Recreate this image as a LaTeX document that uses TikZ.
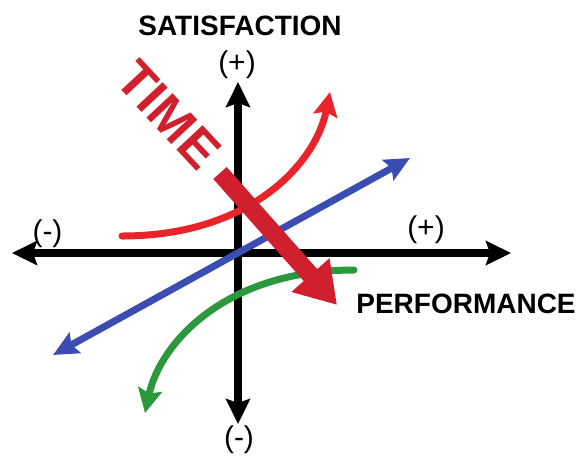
\documentclass[tikz,border=0pt]{standalone}
\usepackage{fontspec}
\setmainfont{Liberation Sans}
\usetikzlibrary{arrows.meta}
\definecolor{curvered}{RGB}{232,35,42}
\definecolor{timered}{RGB}{208,32,45}
\definecolor{lineblue}{RGB}{59,77,176}
\definecolor{curvegreen}{RGB}{44,152,62}
\begin{document}
\begin{tikzpicture}[x=1pt,y=-1pt,
  axisline/.style={line width=7.5pt, -{Stealth[length=25pt,width=24pt,inset=4pt]}},
  trend/.style={line width=7pt, line cap=round},
  trendtip/.style={-{Stealth[length=24pt,width=24pt,inset=4pt]}},
  biglabel/.style={font=\fontsize{28}{28}\selectfont\bfseries, inner sep=0pt, anchor=base},
  signlabel/.style={font=\fontsize{30}{30}\selectfont, inner sep=0pt, anchor=base},
]
\useasboundingbox (0,0) rectangle (580,456);
% axes
\coordinate (O) at (238,253);
\coordinate (xl) at (12,253);
\coordinate (xr) at (511,253);
\coordinate (yt) at (238,82);
\coordinate (yb) at (238,424);
\draw[axisline] (O) -- (xr);
\draw[axisline] (O) -- (xl);
\draw[axisline] (O) -- (yt);
\draw[axisline] (O) -- (yb);
% labels
\node[biglabel] (sat) at (240,35) {SATISFACTION};
\node[biglabel] (perf) at (466,313) {PERFORMANCE};
\node[signlabel] (ptop) at (237,72) {(+)};
\node[signlabel] (pright) at (426,237) {(+)};
\node[signlabel] (mleft) at (47.5,241) {(-)};
\node[signlabel] (mbot) at (239,447) {(-)};
% blue line
\coordinate (b0) at (53,355);
\coordinate (b1) at (410,158);
\draw[trend, lineblue, line cap=butt, {Stealth[length=25pt,width=23pt,inset=4pt]}-{Stealth[length=25pt,width=23pt,inset=4pt]}] (b0) -- (b1);
% red curve
\coordinate (r0) at (122,236);
\coordinate (r1) at (330,92);
\draw[trend, trendtip, curvered] (r0) .. controls (252,236) and (316,162) .. (r1);
% green curve
\coordinate (g0) at (354,270);
\coordinate (g1) at (145,413);
\draw[trend, trendtip, curvegreen] (g0) .. controls (224,270) and (160,344) .. (g1);
% time arrow
\coordinate (ts) at (220,173);
\coordinate (te) at (337,305);
\draw[timered, line width=18pt, -{Triangle[length=40pt,width=48pt]}] (ts) -- (te);
\node[font=\fontsize{52}{52}\selectfont\bfseries, text=timered, inner sep=0pt, anchor=base, rotate=-47] (time) at (155.5,127) {TIME};
\end{tikzpicture}
\end{document}
